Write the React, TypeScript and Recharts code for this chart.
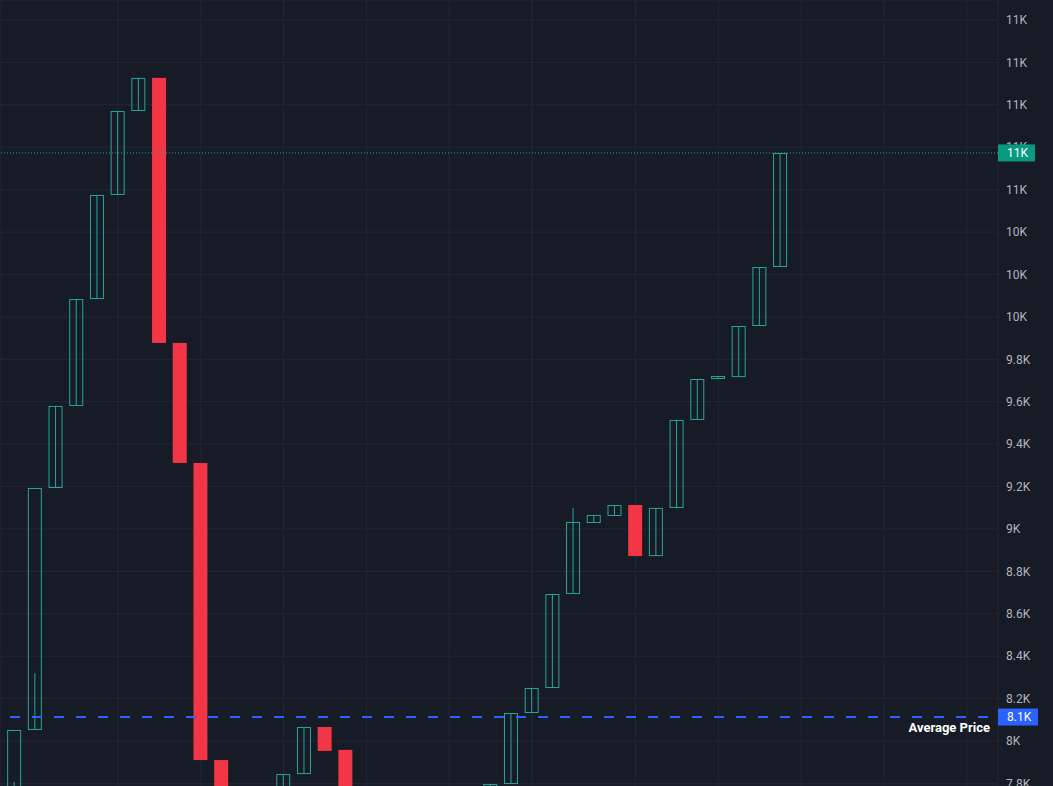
import React from 'react';
import { ComposedChart, Bar, XAxis, YAxis, CartesianGrid, ReferenceLine } from 'recharts';

// ---- data ----
const openPrices = [7700, 8052, 9193, 9580, 10084, 10575, 10971, 11127, 9877, 9311, 7910, 7640, 7520, 7610, 7844, 8066, 7958, 7690, 7600, 7650, 7560, 7620, 7700, 7720, 7797, 8132, 8250, 8693, 9028, 9061, 9113, 8872, 9099, 9514, 9707, 9716, 9957, 10235];
const highPrices = [7807, 8320, 9580, 10084, 10575, 10971, 11127, 11127, 9877, 9311, 7910, 7640, 7610, 7844, 8066, 8066, 7958, 7690, 7650, 7650, 7620, 7700, 7720, 7797, 8132, 8250, 8693, 9099, 9066, 9113, 9113, 9099, 9514, 9707, 9721, 9957, 10235, 10773];
const lowPrices = [7700, 8052, 9193, 9580, 10084, 10575, 10971, 9877, 9311, 7910, 7640, 7520, 7520, 7610, 7844, 7953, 7690, 7600, 7600, 7560, 7560, 7620, 7700, 7720, 7797, 8132, 8250, 8693, 9028, 9061, 8872, 8872, 9099, 9514, 9707, 9716, 9957, 10235];
const closePrices = [8052, 9193, 9580, 10084, 10575, 10971, 11127, 9877, 9311, 7910, 7640, 7520, 7610, 7844, 8066, 7953, 7690, 7600, 7650, 7560, 7620, 7700, 7720, 7797, 8132, 8250, 8693, 9033, 9066, 9113, 8872, 9099, 9514, 9707, 9721, 9957, 10235, 10773];
const priceTicks = [7800, 8000, 8200, 8400, 8600, 8800, 9000, 9200, 9400, 9600, 9800, 10000, 10200, 10400, 10600, 10800, 11000, 11200, 11400];
const timeGridCandles = [5, 9, 13, 17, 21, 25, 30, 34, 38, 42, 46];
const averagePrice = 8113;
const averageLabel = 'Average Price';

const data = openPrices.map((o, i) => ({
  idx: i,
  open: o,
  high: highPrices[i],
  low: lowPrices[i],
  close: closePrices[i],
}));
const lastPrice = closePrices[closePrices.length - 1];

const fmt = (v: number) => `${Number((v / 1000).toPrecision(2))}K`;

const BG = '#171b26';
const GRID = '#232733';
const UP = '#26a69a';
const DOWN = '#f23645';
const BADGE_UP = '#089981';
const BLUE = '#2962ff';
const FONT = 'Roboto, "Noto Sans", sans-serif';

const Body = (props: any) => {
  const { x, y, width, height, payload } = props;
  if (x == null || y == null || !isFinite(y) || !payload) return null;
  const top = Math.min(y, y + height);
  const h = Math.max(Math.abs(height), 1);
  if (payload.close >= payload.open) {
    return (
      <rect x={x + 0.5} y={top + 0.5} width={width - 1} height={Math.max(h - 1, 1)} fill="none" stroke={UP} strokeWidth={1} />
    );
  }
  return <rect x={x} y={top} width={width} height={h} fill={DOWN} />;
};

const Wick = (props: any) => {
  const { x, y, width, height, payload } = props;
  if (x == null || y == null || !isFinite(y) || !payload) return null;
  const top = Math.min(y, y + height);
  const h = Math.abs(height);
  const up = payload.close >= payload.open;
  return <rect x={x + width / 2 - 0.5} y={top} width={1} height={h} fill={up ? UP : DOWN} />;
};

const PriceBadge = (props: any) => {
  const { viewBox, text, color, badgeWidth, caption } = props;
  if (!viewBox) return null;
  const { x, y, width } = viewBox;
  const left = x + width;
  return (
    <g>
      {caption ? (
        <text x={left - 8} y={y + 15} textAnchor="end" fill="#ffffff" fontSize={13} fontWeight="bold" fontFamily={FONT}>
          {caption}
        </text>
      ) : null}
      <rect x={left} y={y - 8.5} width={badgeWidth} height={17} fill={color} />
      <text x={left + 9} y={y} dy="0.355em" fill="#ffffff" fontSize={12} fontFamily={FONT}>
        {text}
      </text>
    </g>
  );
};

export default function App() {
  return (
    <div style={{ position: 'absolute', left: 0, top: 0, width: 1053, height: 786, background: BG, overflow: 'hidden' }}>
      <ComposedChart width={1053} height={786} data={data} margin={{ top: 0, right: 0, bottom: 0, left: 0 }}>
        <CartesianGrid stroke={GRID} strokeWidth={1} xAxisId={0} />
        <XAxis xAxisId={0} type="number" dataKey="idx" domain={[-0.7, 47.51]} ticks={timeGridCandles} hide allowDataOverflow />
        <XAxis xAxisId="w" type="number" dataKey="idx" domain={[-0.7, 47.51]} hide allowDataOverflow />
        <YAxis
          orientation="right"
          width={55}
          domain={[7787.7, 11494.3]}
          ticks={priceTicks}
          tickFormatter={fmt}
          axisLine={false}
          tickLine={false}
          tick={{ fill: '#b2b5be', fontSize: 12, fontFamily: FONT }}
          allowDataOverflow
          interval={0}
        />
        <Bar xAxisId="w" dataKey={(d: any) => [d.low, d.high]} barSize={14} shape={<Wick />} isAnimationActive={false} />
        <Bar xAxisId={0} dataKey={(d: any) => [Math.min(d.open, d.close), Math.max(d.open, d.close)]} barSize={14} shape={<Body />} isAnimationActive={false} />
        <ReferenceLine
          xAxisId={0}
          y={lastPrice}
          stroke={UP}
          strokeWidth={1}
          strokeDasharray="1 2"
          zIndex={2000}
          label={<PriceBadge text={fmt(lastPrice)} color={BADGE_UP} badgeWidth={37} />}
        />
        <ReferenceLine
          xAxisId={0}
          y={averagePrice}
          stroke={BLUE}
          strokeWidth={2}
          strokeDasharray="0 10 10 2"
          zIndex={2000}
          label={<PriceBadge text={fmt(averagePrice)} color={BLUE} badgeWidth={40} caption={averageLabel} />}
        />
      </ComposedChart>
    </div>
  );
}
